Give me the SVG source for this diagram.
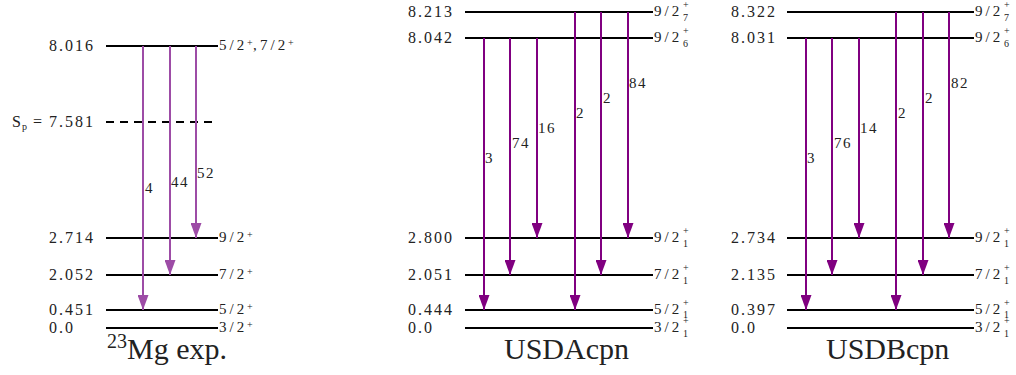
<svg xmlns="http://www.w3.org/2000/svg" width="1016" height="375" viewBox="0 0 1016 375">
<defs>
<marker id="h1" markerUnits="userSpaceOnUse" markerWidth="15" markerHeight="11" refX="15" refY="5.5" orient="auto"><path d="M0,0 L15,5.5 L0,11 z" fill="#9d4ca6"/></marker>
<marker id="h2" markerUnits="userSpaceOnUse" markerWidth="15" markerHeight="11" refX="15" refY="5.5" orient="auto"><path d="M0,0 L15,5.5 L0,11 z" fill="#800080"/></marker>
</defs>

<g id="exp-8016">
<line x1="106" y1="46" x2="218" y2="46" stroke="#000" stroke-width="2"/>
<text style="font-family:'Liberation Serif',serif !important" font-size="16" letter-spacing="2" fill="#222" x="49" y="50.5">8.016</text>
<text style="font-family:'Liberation Serif',serif !important" font-size="15" letter-spacing="3" fill="#222" x="219" y="50">5/2</text>
<text style="font-family:'Liberation Serif',serif !important" font-size="10" fill="#222" x="247" y="46">+</text>
<text style="font-family:'Liberation Serif',serif !important" font-size="15" fill="#222" x="253" y="50">,</text>
<text style="font-family:'Liberation Serif',serif !important" font-size="15" letter-spacing="3" fill="#222" x="260" y="50">7/2</text>
<text style="font-family:'Liberation Serif',serif !important" font-size="10" fill="#222" x="288" y="46">+</text>
</g>
<g id="exp-sp">
<line x1="106" y1="122" x2="218" y2="122" stroke="#000" stroke-width="2" stroke-dasharray="8 6"/>
<text style="font-family:'Liberation Serif',serif !important" font-size="16" fill="#222" x="12" y="126.5">S</text>
<text style="font-family:'Liberation Serif',serif !important" font-size="10" fill="#222" x="22" y="130">p</text>
<text style="font-family:'Liberation Serif',serif !important" font-size="16" fill="#222" x="33" y="126.5">=</text>
<text style="font-family:'Liberation Serif',serif !important" font-size="16" letter-spacing="2" fill="#222" x="49" y="126.5">7.581</text>
</g>
<g id="exp-2714">
<line x1="106" y1="238" x2="218" y2="238" stroke="#000" stroke-width="2"/>
<text style="font-family:'Liberation Serif',serif !important" font-size="16" letter-spacing="2" fill="#222" x="49" y="242.5">2.714</text>
<text style="font-family:'Liberation Serif',serif !important" font-size="15" letter-spacing="3" fill="#222" x="219" y="242">9/2</text>
<text style="font-family:'Liberation Serif',serif !important" font-size="10" fill="#222" x="247" y="238">+</text>
</g>
<g id="exp-2052">
<line x1="106" y1="275" x2="218" y2="275" stroke="#000" stroke-width="2"/>
<text style="font-family:'Liberation Serif',serif !important" font-size="16" letter-spacing="2" fill="#222" x="49" y="279.5">2.052</text>
<text style="font-family:'Liberation Serif',serif !important" font-size="15" letter-spacing="3" fill="#222" x="219" y="279">7/2</text>
<text style="font-family:'Liberation Serif',serif !important" font-size="10" fill="#222" x="247" y="275">+</text>
</g>
<g id="exp-0451">
<line x1="106" y1="310" x2="218" y2="310" stroke="#000" stroke-width="2"/>
<text style="font-family:'Liberation Serif',serif !important" font-size="16" letter-spacing="2" fill="#222" x="49" y="314.5">0.451</text>
<text style="font-family:'Liberation Serif',serif !important" font-size="15" letter-spacing="3" fill="#222" x="219" y="314">5/2</text>
<text style="font-family:'Liberation Serif',serif !important" font-size="10" fill="#222" x="247" y="310">+</text>
</g>
<g id="exp-0000">
<line x1="106" y1="328" x2="218" y2="328" stroke="#000" stroke-width="2"/>
<text style="font-family:'Liberation Serif',serif !important" font-size="16" letter-spacing="2" fill="#222" x="49" y="332.5">0.0</text>
<text style="font-family:'Liberation Serif',serif !important" font-size="15" letter-spacing="3" fill="#222" x="219" y="332">3/2</text>
<text style="font-family:'Liberation Serif',serif !important" font-size="10" fill="#222" x="247" y="328">+</text>
</g>
<g id="title-exp">
<text style="font-family:'Liberation Serif',serif !important" font-size="20" fill="#222" x="107" y="348">23</text>
<text style="font-family:'Liberation Serif',serif !important" font-size="30" fill="#222" x="127" y="359">Mg exp.</text>
</g>

<g id="a-8213">
<line x1="465" y1="12" x2="653" y2="12" stroke="#000" stroke-width="2"/>
<text style="font-family:'Liberation Serif',serif !important" font-size="16" letter-spacing="2" fill="#222" x="408" y="16.5">8.213</text>
<text style="font-family:'Liberation Serif',serif !important" font-size="15" letter-spacing="3" fill="#222" x="654" y="16">9/2</text>
<text style="font-family:'Liberation Serif',serif !important" font-size="10" fill="#222" x="683" y="8">+</text>
<text style="font-family:'Liberation Serif',serif !important" font-size="10" fill="#222" x="683" y="21">7</text>
</g>
<g id="a-8042">
<line x1="465" y1="38" x2="653" y2="38" stroke="#000" stroke-width="2"/>
<text style="font-family:'Liberation Serif',serif !important" font-size="16" letter-spacing="2" fill="#222" x="408" y="42.5">8.042</text>
<text style="font-family:'Liberation Serif',serif !important" font-size="15" letter-spacing="3" fill="#222" x="654" y="42">9/2</text>
<text style="font-family:'Liberation Serif',serif !important" font-size="10" fill="#222" x="683" y="34">+</text>
<text style="font-family:'Liberation Serif',serif !important" font-size="10" fill="#222" x="683" y="47">6</text>
</g>
<g id="a-2800">
<line x1="465" y1="238" x2="653" y2="238" stroke="#000" stroke-width="2"/>
<text style="font-family:'Liberation Serif',serif !important" font-size="16" letter-spacing="2" fill="#222" x="408" y="242.5">2.800</text>
<text style="font-family:'Liberation Serif',serif !important" font-size="15" letter-spacing="3" fill="#222" x="654" y="242">9/2</text>
<text style="font-family:'Liberation Serif',serif !important" font-size="10" fill="#222" x="683" y="234">+</text>
<text style="font-family:'Liberation Serif',serif !important" font-size="10" fill="#222" x="683" y="247">1</text>
</g>
<g id="a-2051">
<line x1="465" y1="275" x2="653" y2="275" stroke="#000" stroke-width="2"/>
<text style="font-family:'Liberation Serif',serif !important" font-size="16" letter-spacing="2" fill="#222" x="408" y="279.5">2.051</text>
<text style="font-family:'Liberation Serif',serif !important" font-size="15" letter-spacing="3" fill="#222" x="654" y="279">7/2</text>
<text style="font-family:'Liberation Serif',serif !important" font-size="10" fill="#222" x="683" y="271">+</text>
<text style="font-family:'Liberation Serif',serif !important" font-size="10" fill="#222" x="683" y="284">1</text>
</g>
<g id="a-0444">
<line x1="465" y1="310" x2="653" y2="310" stroke="#000" stroke-width="2"/>
<text style="font-family:'Liberation Serif',serif !important" font-size="16" letter-spacing="2" fill="#222" x="408" y="314.5">0.444</text>
<text style="font-family:'Liberation Serif',serif !important" font-size="15" letter-spacing="3" fill="#222" x="654" y="314">5/2</text>
<text style="font-family:'Liberation Serif',serif !important" font-size="10" fill="#222" x="683" y="306">+</text>
<text style="font-family:'Liberation Serif',serif !important" font-size="10" fill="#222" x="683" y="318">1</text>
</g>
<g id="a-0000">
<line x1="465" y1="328" x2="653" y2="328" stroke="#000" stroke-width="2"/>
<text style="font-family:'Liberation Serif',serif !important" font-size="16" letter-spacing="2" fill="#222" x="408" y="332.5">0.0</text>
<text style="font-family:'Liberation Serif',serif !important" font-size="15" letter-spacing="3" fill="#222" x="654" y="332">3/2</text>
<text style="font-family:'Liberation Serif',serif !important" font-size="10" fill="#222" x="683" y="324">+</text>
<text style="font-family:'Liberation Serif',serif !important" font-size="10" fill="#222" x="683" y="337">1</text>
</g>
<g id="title-a">
<text style="font-family:'Liberation Serif',serif !important" font-size="30" fill="#222" x="504" y="359">USDAcpn</text>
</g>

<g id="b-8322">
<line x1="787" y1="12" x2="974" y2="12" stroke="#000" stroke-width="2"/>
<text style="font-family:'Liberation Serif',serif !important" font-size="16" letter-spacing="2" fill="#222" x="731" y="16.5">8.322</text>
<text style="font-family:'Liberation Serif',serif !important" font-size="15" letter-spacing="3" fill="#222" x="975" y="16">9/2</text>
<text style="font-family:'Liberation Serif',serif !important" font-size="10" fill="#222" x="1004" y="8">+</text>
<text style="font-family:'Liberation Serif',serif !important" font-size="10" fill="#222" x="1004" y="21">7</text>
</g>
<g id="b-8031">
<line x1="787" y1="38" x2="974" y2="38" stroke="#000" stroke-width="2"/>
<text style="font-family:'Liberation Serif',serif !important" font-size="16" letter-spacing="2" fill="#222" x="731" y="42.5">8.031</text>
<text style="font-family:'Liberation Serif',serif !important" font-size="15" letter-spacing="3" fill="#222" x="975" y="42">9/2</text>
<text style="font-family:'Liberation Serif',serif !important" font-size="10" fill="#222" x="1004" y="34">+</text>
<text style="font-family:'Liberation Serif',serif !important" font-size="10" fill="#222" x="1004" y="47">6</text>
</g>
<g id="b-2734">
<line x1="787" y1="238" x2="974" y2="238" stroke="#000" stroke-width="2"/>
<text style="font-family:'Liberation Serif',serif !important" font-size="16" letter-spacing="2" fill="#222" x="731" y="242.5">2.734</text>
<text style="font-family:'Liberation Serif',serif !important" font-size="15" letter-spacing="3" fill="#222" x="975" y="242">9/2</text>
<text style="font-family:'Liberation Serif',serif !important" font-size="10" fill="#222" x="1004" y="234">+</text>
<text style="font-family:'Liberation Serif',serif !important" font-size="10" fill="#222" x="1004" y="247">1</text>
</g>
<g id="b-2135">
<line x1="787" y1="275" x2="974" y2="275" stroke="#000" stroke-width="2"/>
<text style="font-family:'Liberation Serif',serif !important" font-size="16" letter-spacing="2" fill="#222" x="731" y="279.5">2.135</text>
<text style="font-family:'Liberation Serif',serif !important" font-size="15" letter-spacing="3" fill="#222" x="975" y="279">7/2</text>
<text style="font-family:'Liberation Serif',serif !important" font-size="10" fill="#222" x="1004" y="271">+</text>
<text style="font-family:'Liberation Serif',serif !important" font-size="10" fill="#222" x="1004" y="284">1</text>
</g>
<g id="b-0397">
<line x1="787" y1="310" x2="974" y2="310" stroke="#000" stroke-width="2"/>
<text style="font-family:'Liberation Serif',serif !important" font-size="16" letter-spacing="2" fill="#222" x="731" y="314.5">0.397</text>
<text style="font-family:'Liberation Serif',serif !important" font-size="15" letter-spacing="3" fill="#222" x="975" y="314">5/2</text>
<text style="font-family:'Liberation Serif',serif !important" font-size="10" fill="#222" x="1004" y="306">+</text>
<text style="font-family:'Liberation Serif',serif !important" font-size="10" fill="#222" x="1004" y="318">1</text>
</g>
<g id="b-0000">
<line x1="787" y1="328" x2="974" y2="328" stroke="#000" stroke-width="2"/>
<text style="font-family:'Liberation Serif',serif !important" font-size="16" letter-spacing="2" fill="#222" x="731" y="332.5">0.0</text>
<text style="font-family:'Liberation Serif',serif !important" font-size="15" letter-spacing="3" fill="#222" x="975" y="332">3/2</text>
<text style="font-family:'Liberation Serif',serif !important" font-size="10" fill="#222" x="1004" y="324">+</text>
<text style="font-family:'Liberation Serif',serif !important" font-size="10" fill="#222" x="1004" y="337">1</text>
</g>
<g id="title-b">
<text style="font-family:'Liberation Serif',serif !important" font-size="30" fill="#222" x="826" y="359">USDBcpn</text>
</g>

<g id="connectors">
<line x1="143" y1="46" x2="143" y2="310" stroke="#9d4ca6" stroke-width="2" marker-end="url(#h1)"/>
<line x1="170" y1="46" x2="170" y2="275" stroke="#9d4ca6" stroke-width="2" marker-end="url(#h1)"/>
<line x1="196" y1="46" x2="196" y2="238" stroke="#9d4ca6" stroke-width="2" marker-end="url(#h1)"/>
<text style="font-family:'Liberation Serif',serif !important" font-size="15" letter-spacing="1.5" fill="#222" x="145" y="193">4</text>
<text style="font-family:'Liberation Serif',serif !important" font-size="15" letter-spacing="1.5" fill="#222" x="171" y="187">44</text>
<text style="font-family:'Liberation Serif',serif !important" font-size="15" letter-spacing="1.5" fill="#222" x="197" y="178">52</text>

<line x1="484" y1="38" x2="484" y2="310" stroke="#800080" stroke-width="2" marker-end="url(#h2)"/>
<line x1="510" y1="38" x2="510" y2="275" stroke="#800080" stroke-width="2" marker-end="url(#h2)"/>
<line x1="537" y1="38" x2="537" y2="238" stroke="#800080" stroke-width="2" marker-end="url(#h2)"/>
<line x1="575" y1="12" x2="575" y2="310" stroke="#800080" stroke-width="2" marker-end="url(#h2)"/>
<line x1="601" y1="12" x2="601" y2="275" stroke="#800080" stroke-width="2" marker-end="url(#h2)"/>
<line x1="628" y1="12" x2="628" y2="238" stroke="#800080" stroke-width="2" marker-end="url(#h2)"/>
<text style="font-family:'Liberation Serif',serif !important" font-size="15" letter-spacing="1.5" fill="#222" x="485" y="163">3</text>
<text style="font-family:'Liberation Serif',serif !important" font-size="15" letter-spacing="1.5" fill="#222" x="512" y="148">74</text>
<text style="font-family:'Liberation Serif',serif !important" font-size="15" letter-spacing="1.5" fill="#222" x="538" y="133">16</text>
<text style="font-family:'Liberation Serif',serif !important" font-size="15" letter-spacing="1.5" fill="#222" x="576" y="118">2</text>
<text style="font-family:'Liberation Serif',serif !important" font-size="15" letter-spacing="1.5" fill="#222" x="603" y="103">2</text>
<text style="font-family:'Liberation Serif',serif !important" font-size="15" letter-spacing="1.5" fill="#222" x="629" y="88">84</text>

<line x1="806" y1="38" x2="806" y2="310" stroke="#800080" stroke-width="2" marker-end="url(#h2)"/>
<line x1="832" y1="38" x2="832" y2="275" stroke="#800080" stroke-width="2" marker-end="url(#h2)"/>
<line x1="859" y1="38" x2="859" y2="238" stroke="#800080" stroke-width="2" marker-end="url(#h2)"/>
<line x1="896" y1="12" x2="896" y2="310" stroke="#800080" stroke-width="2" marker-end="url(#h2)"/>
<line x1="923" y1="12" x2="923" y2="275" stroke="#800080" stroke-width="2" marker-end="url(#h2)"/>
<line x1="949" y1="12" x2="949" y2="238" stroke="#800080" stroke-width="2" marker-end="url(#h2)"/>
<text style="font-family:'Liberation Serif',serif !important" font-size="15" letter-spacing="1.5" fill="#222" x="807" y="163">3</text>
<text style="font-family:'Liberation Serif',serif !important" font-size="15" letter-spacing="1.5" fill="#222" x="834" y="148">76</text>
<text style="font-family:'Liberation Serif',serif !important" font-size="15" letter-spacing="1.5" fill="#222" x="860" y="133">14</text>
<text style="font-family:'Liberation Serif',serif !important" font-size="15" letter-spacing="1.5" fill="#222" x="898" y="118">2</text>
<text style="font-family:'Liberation Serif',serif !important" font-size="15" letter-spacing="1.5" fill="#222" x="925" y="103">2</text>
<text style="font-family:'Liberation Serif',serif !important" font-size="15" letter-spacing="1.5" fill="#222" x="951" y="88">82</text>
</g>
</svg>
